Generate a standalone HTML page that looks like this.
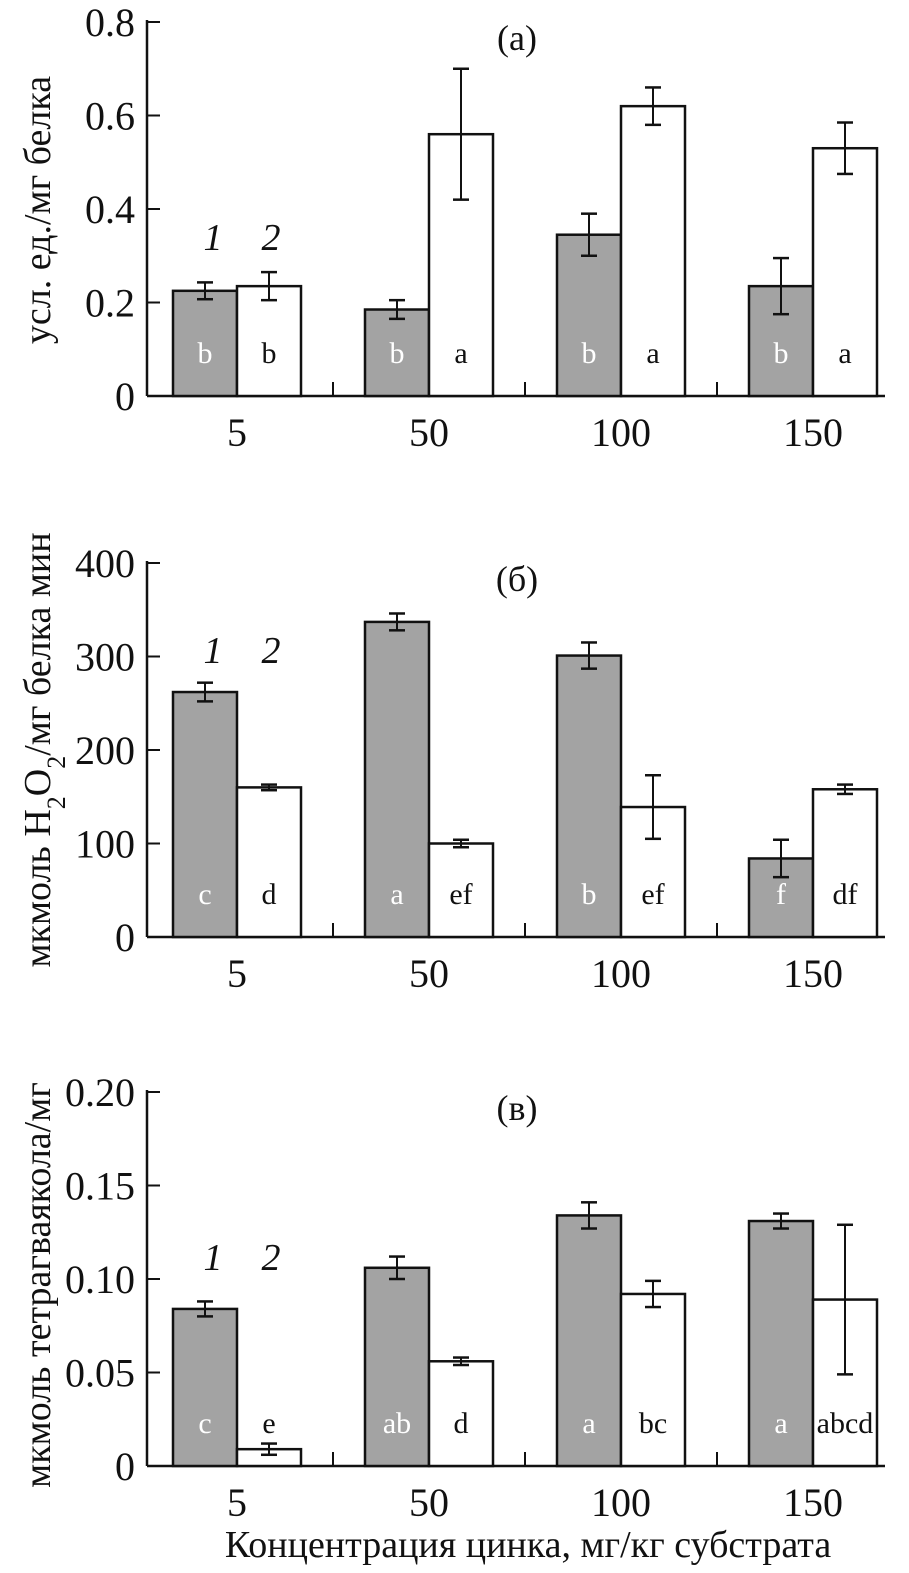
<!DOCTYPE html>
<html><head><meta charset="utf-8"><style>
body{margin:0;background:#fff}
svg text{font-family:"Liberation Serif",serif;fill:#111}
</style></head><body>
<svg id="c" width="909" height="1568" xmlns="http://www.w3.org/2000/svg"></svg>
<script>
const categories=["5","50","100","150"];
const aGray=[0.225,0.185,0.345,0.235];
const aGrayErr=[0.018,0.02,0.045,0.06];
const aWhite=[0.235,0.56,0.62,0.53];
const aWhiteErr=[0.03,0.14,0.04,0.055];
const aGrayLbl=["b","b","b","b"];
const aWhiteLbl=["b","a","a","a"];
const aTicks=["0","0.2","0.4","0.6","0.8"];
const bGray=[262,337,301,84];
const bGrayErr=[10,9,14,20];
const bWhite=[160,100,139,158];
const bWhiteErr=[3,4,34,5];
const bGrayLbl=["c","a","b","f"];
const bWhiteLbl=["d","ef","ef","df"];
const bTicks=["0","100","200","300","400"];
const cGray=[0.084,0.106,0.134,0.131];
const cGrayErr=[0.004,0.006,0.007,0.004];
const cWhite=[0.009,0.056,0.092,0.089];
const cWhiteErr=[0.003,0.002,0.007,0.04];
const cGrayLbl=["c","ab","a","a"];
const cWhiteLbl=["e","d","bc","abcd"];
const cTicks=["0","0.05","0.10","0.15","0.20"];
const svg=document.getElementById('c');
const NS="http://www.w3.org/2000/svg";
function el(t,a,p){const e=document.createElementNS(NS,t);for(const k in a)e.setAttribute(k,a[k]);(p||svg).appendChild(e);return e;}
function panel(id,y0,ymax,ticks,gray,gErr,white,wErr,gl,wl,title,ytitle,ytitleY,markY){
  const g=el('g',{});
  
  
  const x0=147,x1=885,h=374;
  const y=v=>y0-v/ymax*h;
  const cx=i=>237+i*192;
  el('line',{x1:x0,y1:y0-h-2,x2:x0,y2:y0,stroke:'#111','stroke-width':2.5},g);
  el('line',{x1:x0,y1:y0,x2:x1,y2:y0,stroke:'#111','stroke-width':2.5},g);
  ticks.forEach((t,i)=>{const v=ymax*i/(ticks.length-1);const yy=y(v);
    if(i>0)el('line',{x1:x0,y1:yy,x2:x0+13,y2:yy,stroke:'#111','stroke-width':2},g);
    const tx=el('text',{x:x0-12,y:yy+14,'text-anchor':'end','font-size':40},g);tx.textContent=t;
    
    });
  for(let i=0;i<3;i++){const xx=cx(i)+96;el('line',{x1:xx,y1:y0,x2:xx,y2:y0-14,stroke:'#111','stroke-width':2},g);}
  categories.forEach((c,i)=>{
    const tx=el('text',{x:cx(i),y:y0+50,'text-anchor':'middle','font-size':40},g);tx.textContent=c;
    
    
    [[gray,gErr,gl,-64,'#a3a3a3','#fff'],[white,wErr,wl,0,'#fff','#111']].forEach(([vals,er,lb,off,fill,tc],k)=>{
      const r=el('rect',{x:cx(i)+off,y:y(vals[i]),width:64,height:y0-y(vals[i]),fill:fill,stroke:'#111','stroke-width':2.5},g);
      
      
      const bx=cx(i)+off+32,yt=y(vals[i]+er[i]),yb=y(vals[i]-er[i]);
      el('line',{x1:bx,y1:yt,x2:bx,y2:yb,stroke:'#111','stroke-width':2},g);
      el('line',{x1:bx-8,y1:yt,x2:bx+8,y2:yt,stroke:'#111','stroke-width':2.5},g);
      el('line',{x1:bx-8,y1:yb,x2:bx+8,y2:yb,stroke:'#111','stroke-width':2.5},g);
      const lt=el('text',{x:bx,y:y0-33,'text-anchor':'middle','font-size':30,style:'fill:'+tc},g);lt.textContent=lb[i];
      
      
    });
  });
  const tt=el('text',{x:517,y:y0-h+28,'text-anchor':'middle','font-size':36},g);tt.textContent=title;
  
  
  const m1=el('text',{x:213,y:markY,'text-anchor':'middle','font-size':38,'font-style':'italic'},g);m1.textContent='1';
  
  
  const m2=el('text',{x:271,y:markY,'text-anchor':'middle','font-size':38,'font-style':'italic'},g);m2.textContent='2';
  
  
  const yt=el('text',{x:0,y:0,'text-anchor':'middle','font-size':38,transform:`translate(50,${ytitleY}) rotate(-90)`},g);yt.innerHTML=ytitle;
  
  
}
panel('a',396,0.8,aTicks,aGray,aGrayErr,aWhite,aWhiteErr,aGrayLbl,aWhiteLbl,'(а)','усл. ед./мг белка',210,250);
panel('b',937,400,bTicks,bGray,bGrayErr,bWhite,bWhiteErr,bGrayLbl,bWhiteLbl,'(б)','мкмоль H<tspan baseline-shift="sub" font-size="26">2</tspan>O<tspan baseline-shift="sub" font-size="26">2</tspan>/мг белка мин',750,663);
panel('c',1466,0.2,cTicks,cGray,cGrayErr,cWhite,cWhiteErr,cGrayLbl,cWhiteLbl,'(в)','мкмоль тетрагваякола/мг',1285,1270);
const xt=el('text',{x:528,y:1557,'text-anchor':'middle','font-size':38});xt.textContent='Концентрация цинка, мг/кг субстрата';


</script>
</body></html>
